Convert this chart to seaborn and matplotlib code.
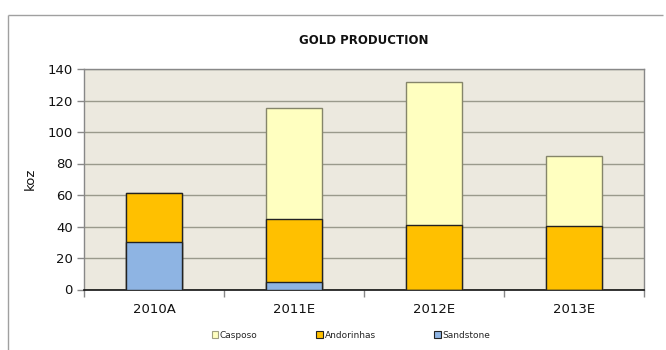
import matplotlib
matplotlib.use("Agg")
import matplotlib.pyplot as plt
from matplotlib.lines import Line2D
from matplotlib.patches import Patch
from matplotlib.ticker import FixedLocator
import numpy as np
import pandas as pd
import seaborn as sns

# Production by mine, koz
years = ["2010A", "2011E", "2012E", "2013E"]
sandstone = [30.0, 5.0, 0.0, 0.0]
andorinhas = [31.5, 40.0, 41.0, 40.5]
casposo = [0.0, 70.5, 90.5, 44.0]

series_names = ["Casposo", "Andorinhas", "Sandstone"]
colors = {"Casposo": "#FFFFC0", "Andorinhas": "#FFC000", "Sandstone": "#8EB4E3"}
edges = {"Casposo": "#85856A", "Andorinhas": "#222222", "Sandstone": "#222222"}

sns.set_theme(style="white")
plt.rcParams["font.family"] = ["DejaVu Sans"]

df = pd.DataFrame({"year": years, "Sandstone": sandstone,
                   "Andorinhas": andorinhas, "Casposo": casposo})
df["top_and"] = df["Sandstone"] + df["Andorinhas"]
df["top_cas"] = df["top_and"] + df["Casposo"]

fig = plt.figure(figsize=(6.66, 3.5), dpi=100)
ax = fig.add_axes([84 / 666, 1 - 289.5 / 350, 560 / 666, 220.5 / 350])
ax.set_facecolor("#ECE9DF")

# Outer chart frame: only its top and left edges fall inside the image
fx, fy = 7.5 / 666, 1 - 15 / 350
fig.add_artist(Line2D([fx, 663 / 666], [fy, fy], transform=fig.transFigure,
                      color="#A0A0A0", linewidth=1.0, solid_capstyle="butt"))
fig.add_artist(Line2D([fx, fx], [0.0, fy], transform=fig.transFigure,
                      color="#A0A0A0", linewidth=1.0, solid_capstyle="butt"))

# Stacked bars drawn as overlaid cumulative totals
layers = [("top_cas", "Casposo"), ("top_and", "Andorinhas"), ("Sandstone", "Sandstone")]
for col, name in layers:
    sns.barplot(data=df, x="year", y=col, ax=ax, color=colors[name],
                width=0.4, edgecolor=edges[name], linewidth=1.0,
                saturation=1, zorder=3)

ax.set_xlim(-0.5, 3.5)
ax.set_ylim(0, 140)
ax.set_yticks(np.arange(0, 141, 20))
ax.yaxis.grid(True, color="#9A9A8C", linewidth=1.0)
ax.set_axisbelow(True)
ax.tick_params(axis="y", left=True, length=5, width=1, color="#888888",
               labelsize=9.5, pad=3, labelcolor="#111111")
ax.tick_params(axis="x", which="major", length=0, labelsize=9.5, pad=10,
               labelcolor="#111111")
ax.xaxis.set_minor_locator(FixedLocator([-0.5, 0.5, 1.5, 2.5, 3.5]))
ax.tick_params(axis="x", which="minor", bottom=True, length=5, width=1,
               color="#888888")
ax.set_xlabel("")
ax.set_ylabel("koz", fontsize=9.5, labelpad=8, color="#111111")

for side in ["top", "right", "left"]:
    ax.spines[side].set_color("#888888")
    ax.spines[side].set_linewidth(1.0)
ax.spines["bottom"].set_color("#111111")
ax.spines["bottom"].set_linewidth(1.2)

fig.text(364 / 666, 1 - 40 / 350, "GOLD PRODUCTION", ha="center", va="center",
         fontsize=8.5, fontweight="bold", color="#111111")

handles = [Patch(facecolor=colors[n], edgecolor=edges[n] if n != "Casposo" else "#A0A080",
                 linewidth=0.8) for n in series_names]
fig.legend(handles, series_names, loc="center", bbox_to_anchor=(351 / 666, 1 - 335 / 350),
           ncol=3, frameon=False, fontsize=6.5, handlelength=0.7, handleheight=0.7,
           handletextpad=0.2, columnspacing=6.5)

fig.savefig("out.png", dpi=100)
